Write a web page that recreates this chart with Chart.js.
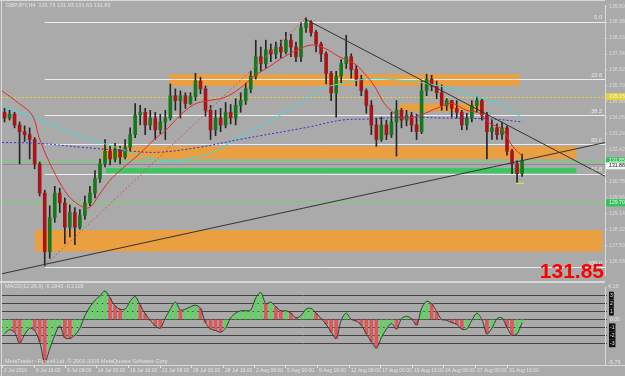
<!DOCTYPE html>
<html>
<head>
<meta charset="utf-8">
<script src="https://cdn.jsdelivr.net/npm/chart.js@4.4.0/dist/chart.umd.min.js"></script>
<style>
  html, body { margin: 0; padding: 0; background: #aaaaaa; }
  #wrap { position: relative; width: 625px; height: 376px; overflow: hidden; background: #aaaaaa; }
  #main { position: absolute; left: 0; top: 0; }
  #ind { position: absolute; left: 0; top: 281px; }
</style>
</head>
<body>
<div id="wrap">
  <canvas id="main" width="625" height="281"></canvas>
  <canvas id="ind" width="625" height="95"></canvas>
</div>
<script>
// H4 candles (one slot = one candle), open = previous close
const firstOpen = 134.35;
const closes = [
  134.05, 134.25, 133.70, 133.35, 133.20, 132.95, 131.70, 130.20, 127.20, 128.95,
  130.20, 129.70, 128.45, 129.20, 128.45, 129.05, 129.70, 130.20, 130.95, 131.70,
  132.35, 131.95, 132.45, 132.05, 132.55, 133.20, 134.20, 134.35, 133.70, 134.05,
  133.45, 133.85, 134.05, 135.20, 134.95, 135.20, 134.80, 135.15, 135.95, 135.55,
  134.45, 133.45, 134.05, 133.70, 134.35, 134.05, 134.70, 134.95, 135.55, 136.20,
  137.20, 136.85, 137.55, 137.35, 137.70, 137.45, 138.05, 137.70, 137.20, 138.70,
  138.95, 138.45, 137.85, 137.35, 136.35, 135.35, 136.20, 136.85, 137.20, 136.55,
  136.05, 135.45, 134.70, 133.70, 132.95, 133.70, 133.20, 133.85, 134.45, 133.95,
  134.20, 133.70, 133.35, 135.45, 136.05, 135.70, 135.35, 134.70, 134.95, 134.55,
  134.35, 133.70, 134.05, 134.70, 134.95, 134.20, 133.35, 133.55, 133.20, 133.55,
  132.35, 131.70, 131.20, 131.85
];
const highs = [
  134.55, 134.45, 134.35, 133.85, 133.65, 133.55, 133.05, 131.80, 130.35, 129.55,
  130.55, 130.45, 129.95, 129.60, 129.45, 129.35, 130.05, 130.55, 131.35, 131.95,
  132.95, 132.65, 132.75, 132.60, 132.95, 133.55, 134.80, 134.70, 134.55, 134.45,
  134.35, 134.25, 134.45, 135.80, 135.55, 135.45, 135.35, 135.35, 136.35, 136.15,
  135.70, 134.70, 134.45, 134.55, 134.85, 134.75, 135.05, 135.35, 135.85, 136.45,
  138.05, 137.70, 138.05, 137.85, 137.95, 138.05, 138.45, 138.35, 137.95, 138.95,
  139.20, 139.05, 138.55, 137.95, 137.45, 136.45, 136.45, 137.05, 138.30, 137.35,
  136.75, 136.25, 135.55, 134.95, 134.05, 134.10, 133.95, 134.35, 134.95, 134.55,
  134.45, 134.35, 134.25, 135.95, 136.30, 136.25, 135.95, 135.75, 135.05, 134.95,
  134.95, 134.45, 134.30, 134.95, 135.15, 135.05, 134.35, 133.95, 133.75, 133.85,
  133.65, 132.45, 131.85, 132.20
];
const lows = [
  133.85, 133.95, 133.55, 131.70, 132.85, 131.95, 131.45, 130.05, 126.45, 126.85,
  128.70, 129.20, 127.60, 127.95, 127.55, 128.35, 128.85, 129.55, 129.95, 130.75,
  131.55, 131.65, 131.80, 131.70, 131.95, 132.35, 133.05, 133.70, 133.20, 133.45,
  132.95, 133.25, 132.95, 133.95, 134.45, 134.05, 134.55, 134.75, 134.95, 135.30,
  134.15, 132.95, 133.15, 133.35, 133.55, 133.75, 133.70, 134.35, 134.75, 135.35,
  136.05, 136.45, 136.60, 136.95, 137.10, 137.15, 137.35, 137.20, 136.95, 136.95,
  138.45, 138.25, 137.45, 136.95, 135.80, 134.95, 134.10, 135.85, 136.60, 136.10,
  135.70, 135.20, 134.30, 133.20, 132.60, 132.85, 132.95, 133.05, 132.10, 133.55,
  133.65, 133.35, 132.95, 133.25, 135.20, 135.45, 135.05, 134.45, 134.45, 134.10,
  134.05, 133.45, 133.45, 133.85, 134.35, 133.95, 131.95, 132.95, 132.95, 132.95,
  132.15, 131.20, 130.75, 131.05
];

// moving averages: [slot, price]
const maFast = [[-0.5,135.45],[2.9,134.80],[5.5,134.20],[6.9,133.05],[8.9,131.80],[12.3,130.20],[14.8,129.60],[16.8,129.45],[18.8,130.10],[20.8,130.80],[23.4,131.45],[26.8,132.20],[29.8,132.95],[32.2,133.45],[34.8,134.15],[37.7,134.75],[40.7,134.95],[43.7,135.10],[46.7,135.55],[49.7,136.20],[52.7,136.70],[55.7,137.20],[58.7,137.60],[61.3,137.80],[64.0,137.60],[66.6,137.20],[69.6,136.85],[71.6,136.35],[73.6,135.70],[75.6,134.80],[77.6,134.30],[79.6,134.05],[82.6,134.20],[86.5,134.60],[89.1,134.80],[91.9,134.45],[94.5,134.30],[96.5,133.80],[99.1,133.45],[101.1,132.60],[103.1,132.10]];
const maMid = [[-0.5,134.65],[2.9,134.35],[5.9,134.10],[8.9,133.75],[11.9,133.45],[15.8,133.05],[22.2,132.55],[26.8,132.15],[30.8,131.90],[34.2,131.85],[37.7,132.05],[40.7,132.20],[46.7,133.05],[52.1,133.80],[58.7,134.80],[63.2,135.55],[66.6,135.80],[72.0,136.05],[78.6,136.00],[86.5,135.70],[94.5,135.10],[98.5,134.80],[103.1,134.05]];
const maSlow = [[-0.5,132.80],[6.9,132.75],[15.4,132.55],[25.4,132.35],[30.8,132.30],[38.7,132.55],[46.7,132.95],[60.7,133.60],[67.2,133.95],[72.0,134.00],[80.6,134.10],[87.1,134.05],[97.1,134.00],[103.1,133.85]];

// drawn objects: [slot, price]
const trendDown = [[59.7,139.15],[119.6,131.05]];
const trendUp = [[-0.7,126.05],[119.6,132.80]];
const fibSwing = [[7.9,126.45],[59.7,139.10]];
const lowMark = [[101.8,130.70],[103.4,130.70]];

// rectangles: [fromSlot, toSlot, topPrice, bottomPrice]
const orangeZones = [[32.8,102.5,136.30,135.70],[78.6,95.5,134.80,134.40],[19.4,113.8,132.60,131.95],[6.1,119.0,128.30,127.20]];
const greenZone = [20.2,113.8,131.48,131.23];

const fibStart = 8;
const fibNames = ['0.0','23.6','38.2','50.0','61.8','100.0'];
const fibPrices = [139.00,136.05,134.20,132.70,131.20,126.40];

const greenLines = [131.85, 129.70];
const grayLines = [131.70];
const yellowLine = 135.15;

const priceTicks = [139.80,138.98,138.16,137.34,136.52,135.70,134.88,134.06,133.24,132.42,131.60,130.78,129.96,129.14,128.32,127.50,126.68];
const axisMarks = [[131.85,'131.85'],[131.60,'131.88'],[129.70,'129.70'],[135.15,'135.15']];
const lastPrice = '131.85';
const title = 'GBPJPY,H4  131.73 131.93 131.63 131.85';

// lower window oscillator
const oscValues = [
  -1.8, -1.3, -1.6, -3.0, -1.9, -1.1, -1.4, -2.8, -5.4, -3.7,
  -2.0, -0.8, -2.3, -2.4, -2.0, -1.1, 0.5, 1.6, 2.4, 3.0,
  3.6, 2.7, 1.7, 1.3, 1.3, 2.3, 2.9, 1.8, 0.7, -0.1,
  -0.8, -1.1, 0.2, 1.3, 2.2, 1.2, 1.3, 1.6, 1.8, 1.4,
  -0.4, -1.2, -1.4, -1.6, -1.1, 0.2, 0.8, 1.1, 1.1, 1.2,
  2.7, 3.4, 2.0, 2.2, 1.6, 1.1, 1.1, 0.8, 0.2, 0.5,
  1.3, 1.4, 0.8, 0.1, -0.6, -1.6, -2.4, -0.1, 0.8, 0.0,
  -0.2, -0.7, -1.8, -2.8, -3.6, -2.3, -1.2, -0.5, -1.2, 0.1,
  0.4, 0.1, -0.7, 1.4, 2.3, 2.0, 1.0, 0.0, -0.1, -0.4,
  -0.6, -1.2, -1.2, -0.1, 0.8, 0.0, -1.8, -1.1, 0.1, 0.2,
  -1.0, -2.0, -1.8, -0.4
];
const oscLevels = [3, 2, 1, 0, -1, -2, -3];
const oscLevelText = ['3', '2', '1', '0.00', '-1', '-2', '-3'];
const oscTitle = 'MACD(12,26,9) -0.1843 -0.2105';
const oscTop = '4.10';
const oscBottom = '-5.75';

const timeLabels = ['2 Jul 2010','6 Jul 16:00','9 Jul 08:00','14 Jul 00:00','16 Jul 16:00','21 Jul 08:00','26 Jul 00:00','28 Jul 16:00','2 Aug 08:00','5 Aug 00:00','9 Aug 16:00','12 Aug 08:00','17 Aug 00:00','19 Aug 16:00','24 Aug 08:00','27 Aug 00:00','31 Aug 16:00'];
const timeSlots = [-0.5,5.8,12.0,18.3,24.6,30.9,37.1,43.4,49.7,55.9,62.2,68.5,74.8,81.0,87.3,93.6,99.9];
const footer = 'MetaTrader - Forex4 Ltd, \u00a9 2001-2009 MetaQuotes Software Corp.';

const SLOTS = 120;
const slots = Array.from({ length: SLOTS }, (_, i) => String(i));

Chart.defaults.font.family = 'Liberation Sans';
const TXT = '#e4e4e4';
const pts = arr => arr.map(p => ({ x: p[0], y: p[1] }));
const opens = closes.map((c, i) => (i ? closes[i - 1] : firstOpen));

const mainOverlay = {
  id: 'mainOverlay',
  beforeDatasetsDraw(chart) {
    const { ctx, chartArea: a, scales: { xl, y } } = chart;
    ctx.save();
    ctx.beginPath();
    ctx.rect(a.left, a.top, a.right - a.left, a.bottom - a.top);
    ctx.clip();
    const box = (z, color) => {
      const x0 = xl.getPixelForValue(z[0]), x1 = xl.getPixelForValue(z[1]);
      const y0 = y.getPixelForValue(z[2]), y1 = y.getPixelForValue(z[3]);
      ctx.fillStyle = color;
      ctx.fillRect(x0, y0, x1 - x0, y1 - y0);
    };
    orangeZones.forEach(z => box(z, 'rgba(240,160,55,0.92)'));
    box(greenZone, '#35c95e');

    const hline = (price, color, x0, dash) => {
      const py = Math.round(y.getPixelForValue(price)) + 0.5;
      ctx.strokeStyle = color;
      ctx.lineWidth = 1;
      ctx.setLineDash(dash || []);
      ctx.beginPath();
      ctx.moveTo(x0, py);
      ctx.lineTo(a.right, py);
      ctx.stroke();
    };
    greenLines.forEach(p => hline(p, '#6fd86f', a.left));
    grayLines.forEach(p => hline(p, '#8c8c8c', a.left));
    hline(yellowLine, '#e8d23a', a.left, [2, 2]);
    ctx.setLineDash([]);
    const fx = xl.getPixelForValue(fibStart);
    ctx.font = '5.5px Liberation Sans';
    ctx.textAlign = 'right';
    ctx.textBaseline = 'bottom';
    fibPrices.forEach((p, i) => {
      hline(p, '#ececec', fx);
      ctx.fillStyle = '#ececec';
      ctx.fillText(fibNames[i], a.right - 3, y.getPixelForValue(p) - 1);
    });
    ctx.restore();
  },
  afterDraw(chart) {
    const { ctx, chartArea: a, scales: { y } } = chart;
    ctx.save();
    // window frame
    ctx.fillStyle = '#d8d8d8';
    ctx.fillRect(0, 0, a.right, 1);
    ctx.fillRect(1, 0, 1, chart.height);
    // price markers on the axis
    ctx.font = '5.2px Liberation Sans';
    ctx.textBaseline = 'middle';
    ctx.textAlign = 'left';
    axisMarks.forEach((m, i) => {
      const py = y.getPixelForValue(m[0]);
      ctx.fillStyle = i === 1 ? '#f4f4f4' : (i === 3 ? '#e8d23a' : '#2fc45a');
      ctx.fillRect(a.right + 1, py - 3.5, 625 - a.right, 7);
      ctx.fillStyle = i === 1 ? '#222' : '#f4f4f4';
      ctx.fillText(m[1], a.right + 4, py);
    });
    // title
    ctx.fillStyle = TXT;
    ctx.font = '5.5px Liberation Sans';
    ctx.textBaseline = 'top';
    ctx.fillText(title, 6, 3);
    // last price
    ctx.fillStyle = '#ff0000';
    ctx.font = 'bold 21px Liberation Sans';
    ctx.textAlign = 'right';
    ctx.textBaseline = 'alphabetic';
    ctx.fillText(lastPrice, a.right - 1, 278);
    ctx.restore();
  }
};

new Chart(document.getElementById('main'), {
  type: 'bar',
  data: {
    labels: slots,
    datasets: [
      {
        label: 'wicks',
        data: highs.map((h, i) => [lows[i], h]),
        backgroundColor: '#262626',
        barThickness: 1,
        grouped: false,
        order: 6
      },
      {
        label: 'bodies',
        data: closes.map((c, i) => [opens[i], c]),
        backgroundColor: ctx => (closes[ctx.dataIndex] >= opens[ctx.dataIndex] ? '#16781c' : '#a8141a'),
        borderColor: '#1e1e1e',
        borderWidth: 0,
        barThickness: 3,
        minBarLength: 1,
        grouped: false,
        order: 5
      },
      { type: 'line', label: 'slow', xAxisID: 'xl', data: pts(maSlow), borderColor: '#2f2fd6', borderWidth: 1, borderDash: [2, 2], pointRadius: 0, tension: 0.4, order: 4 },
      { type: 'line', label: 'mid', xAxisID: 'xl', data: pts(maMid), borderColor: '#45d8d8', borderWidth: 1, pointRadius: 0, tension: 0.4, order: 4 },
      { type: 'line', label: 'fast', xAxisID: 'xl', data: pts(maFast), borderColor: '#e02a2a', borderWidth: 1, pointRadius: 0, tension: 0.4, order: 3 },
      { type: 'line', label: 'swing', xAxisID: 'xl', data: pts(fibSwing), borderColor: '#c85a5a', borderWidth: 1, borderDash: [2, 2], pointRadius: 0, order: 2 },
      { type: 'line', label: 'down', xAxisID: 'xl', data: pts(trendDown), borderColor: '#333333', borderWidth: 1, pointRadius: 0, order: 1 },
      { type: 'line', label: 'up', xAxisID: 'xl', data: pts(trendUp), borderColor: '#333333', borderWidth: 1, pointRadius: 0, order: 1 },
      { type: 'line', label: 'low', xAxisID: 'xl', data: pts(lowMark), borderColor: '#f0e040', borderWidth: 1, pointRadius: 0, order: 1 }
    ]
  },
  options: {
    responsive: false,
    animation: false,
    events: [],
    layout: { padding: { left: 2, top: 2, bottom: 1, right: 0 } },
    plugins: { legend: { display: false }, tooltip: { enabled: false } },
    scales: {
      x: { display: false, offset: true },
      xl: { type: 'linear', display: false, offset: false, min: -0.5, max: 119.5 },
      y: {
        position: 'right',
        min: 125.95,
        max: 139.85,
        afterFit: s => { s.width = 20; },
        afterBuildTicks: s => { s.ticks = priceTicks.map(v => ({ value: v })); },
        ticks: { autoSkip: false, color: '#dadada', font: { size: 5.2 }, padding: 2, callback: v => v.toFixed(2) },
        grid: { drawOnChartArea: false, tickLength: 2, color: '#dadada' },
        border: { display: true, color: '#dadada' }
      }
    }
  },
  plugins: [mainOverlay]
});

const indOverlay = {
  id: 'indOverlay',
  afterDraw(chart) {
    const { ctx, chartArea: a, scales: { xl } } = chart;
    ctx.save();
    ctx.fillStyle = '#d8d8d8';
    ctx.fillRect(0, 0, a.right, 2);
    ctx.fillRect(0, a.bottom, a.right + 20, 1);
    ctx.fillRect(1, 0, 1, chart.height);
    ctx.font = '5.5px Liberation Sans';
    ctx.fillStyle = TXT;
    ctx.textBaseline = 'top';
    ctx.textAlign = 'left';
    ctx.fillText(oscTitle, 5, 3);
    ctx.textBaseline = 'bottom';
    ctx.fillText(footer, 5, a.bottom - 1);
    ctx.fillText(oscTop, a.right + 3, 8);
    ctx.fillText(oscBottom, a.right + 3, a.bottom);
    ctx.font = '5px Liberation Sans';
    ctx.textBaseline = 'top';
    timeSlots.forEach((s, i) => {
      const px = Math.round(xl.getPixelForValue(s));
      ctx.fillRect(px, a.bottom, 1, 3);
      ctx.fillText(timeLabels[i], px + 2, a.bottom + 3);
    });
    ctx.restore();
  }
};

new Chart(document.getElementById('ind'), {
  type: 'bar',
  data: {
    labels: slots,
    datasets: [
      {
        label: 'hist',
        data: oscValues,
        backgroundColor: ctx => {
          const i = ctx.dataIndex;
          return (i === 0 || oscValues[i] >= oscValues[i - 1]) ? '#5fd35f' : '#d85a5a';
        },
        barThickness: 3,
        grouped: false,
        order: 2
      },
      {
        type: 'line',
        label: 'line',
        data: oscValues,
        borderColor: '#3a3a3a',
        borderWidth: 1,
        pointRadius: 0,
        tension: 0.3,
        order: 1
      }
    ]
  },
  options: {
    responsive: false,
    animation: false,
    events: [],
    layout: { padding: { left: 2, top: 2, bottom: 11, right: 0 } },
    plugins: { legend: { display: false }, tooltip: { enabled: false } },
    scales: {
      x: { display: false, offset: true },
      xl: { type: 'linear', display: false, offset: false, min: -0.5, max: 119.5 },
      y: {
        position: 'right',
        min: -5.75,
        max: 4.1,
        afterFit: s => { s.width = 20; },
        afterBuildTicks: s => { s.ticks = oscLevels.map(v => ({ value: v })); },
        ticks: {
          autoSkip: false,
          color: '#e8e8e8',
          font: { size: 5 },
          padding: 3,
          showLabelBackdrop: c => c.tick.value !== 0,
          backdropColor: '#111111',
          backdropPadding: 1,
          callback: (v, i) => oscLevelText[i]
        },
        grid: { color: '#444444', tickLength: 2 },
        border: { display: true, color: '#dadada' }
      }
    }
  },
  plugins: [indOverlay]
});
</script>
</body>
</html>
